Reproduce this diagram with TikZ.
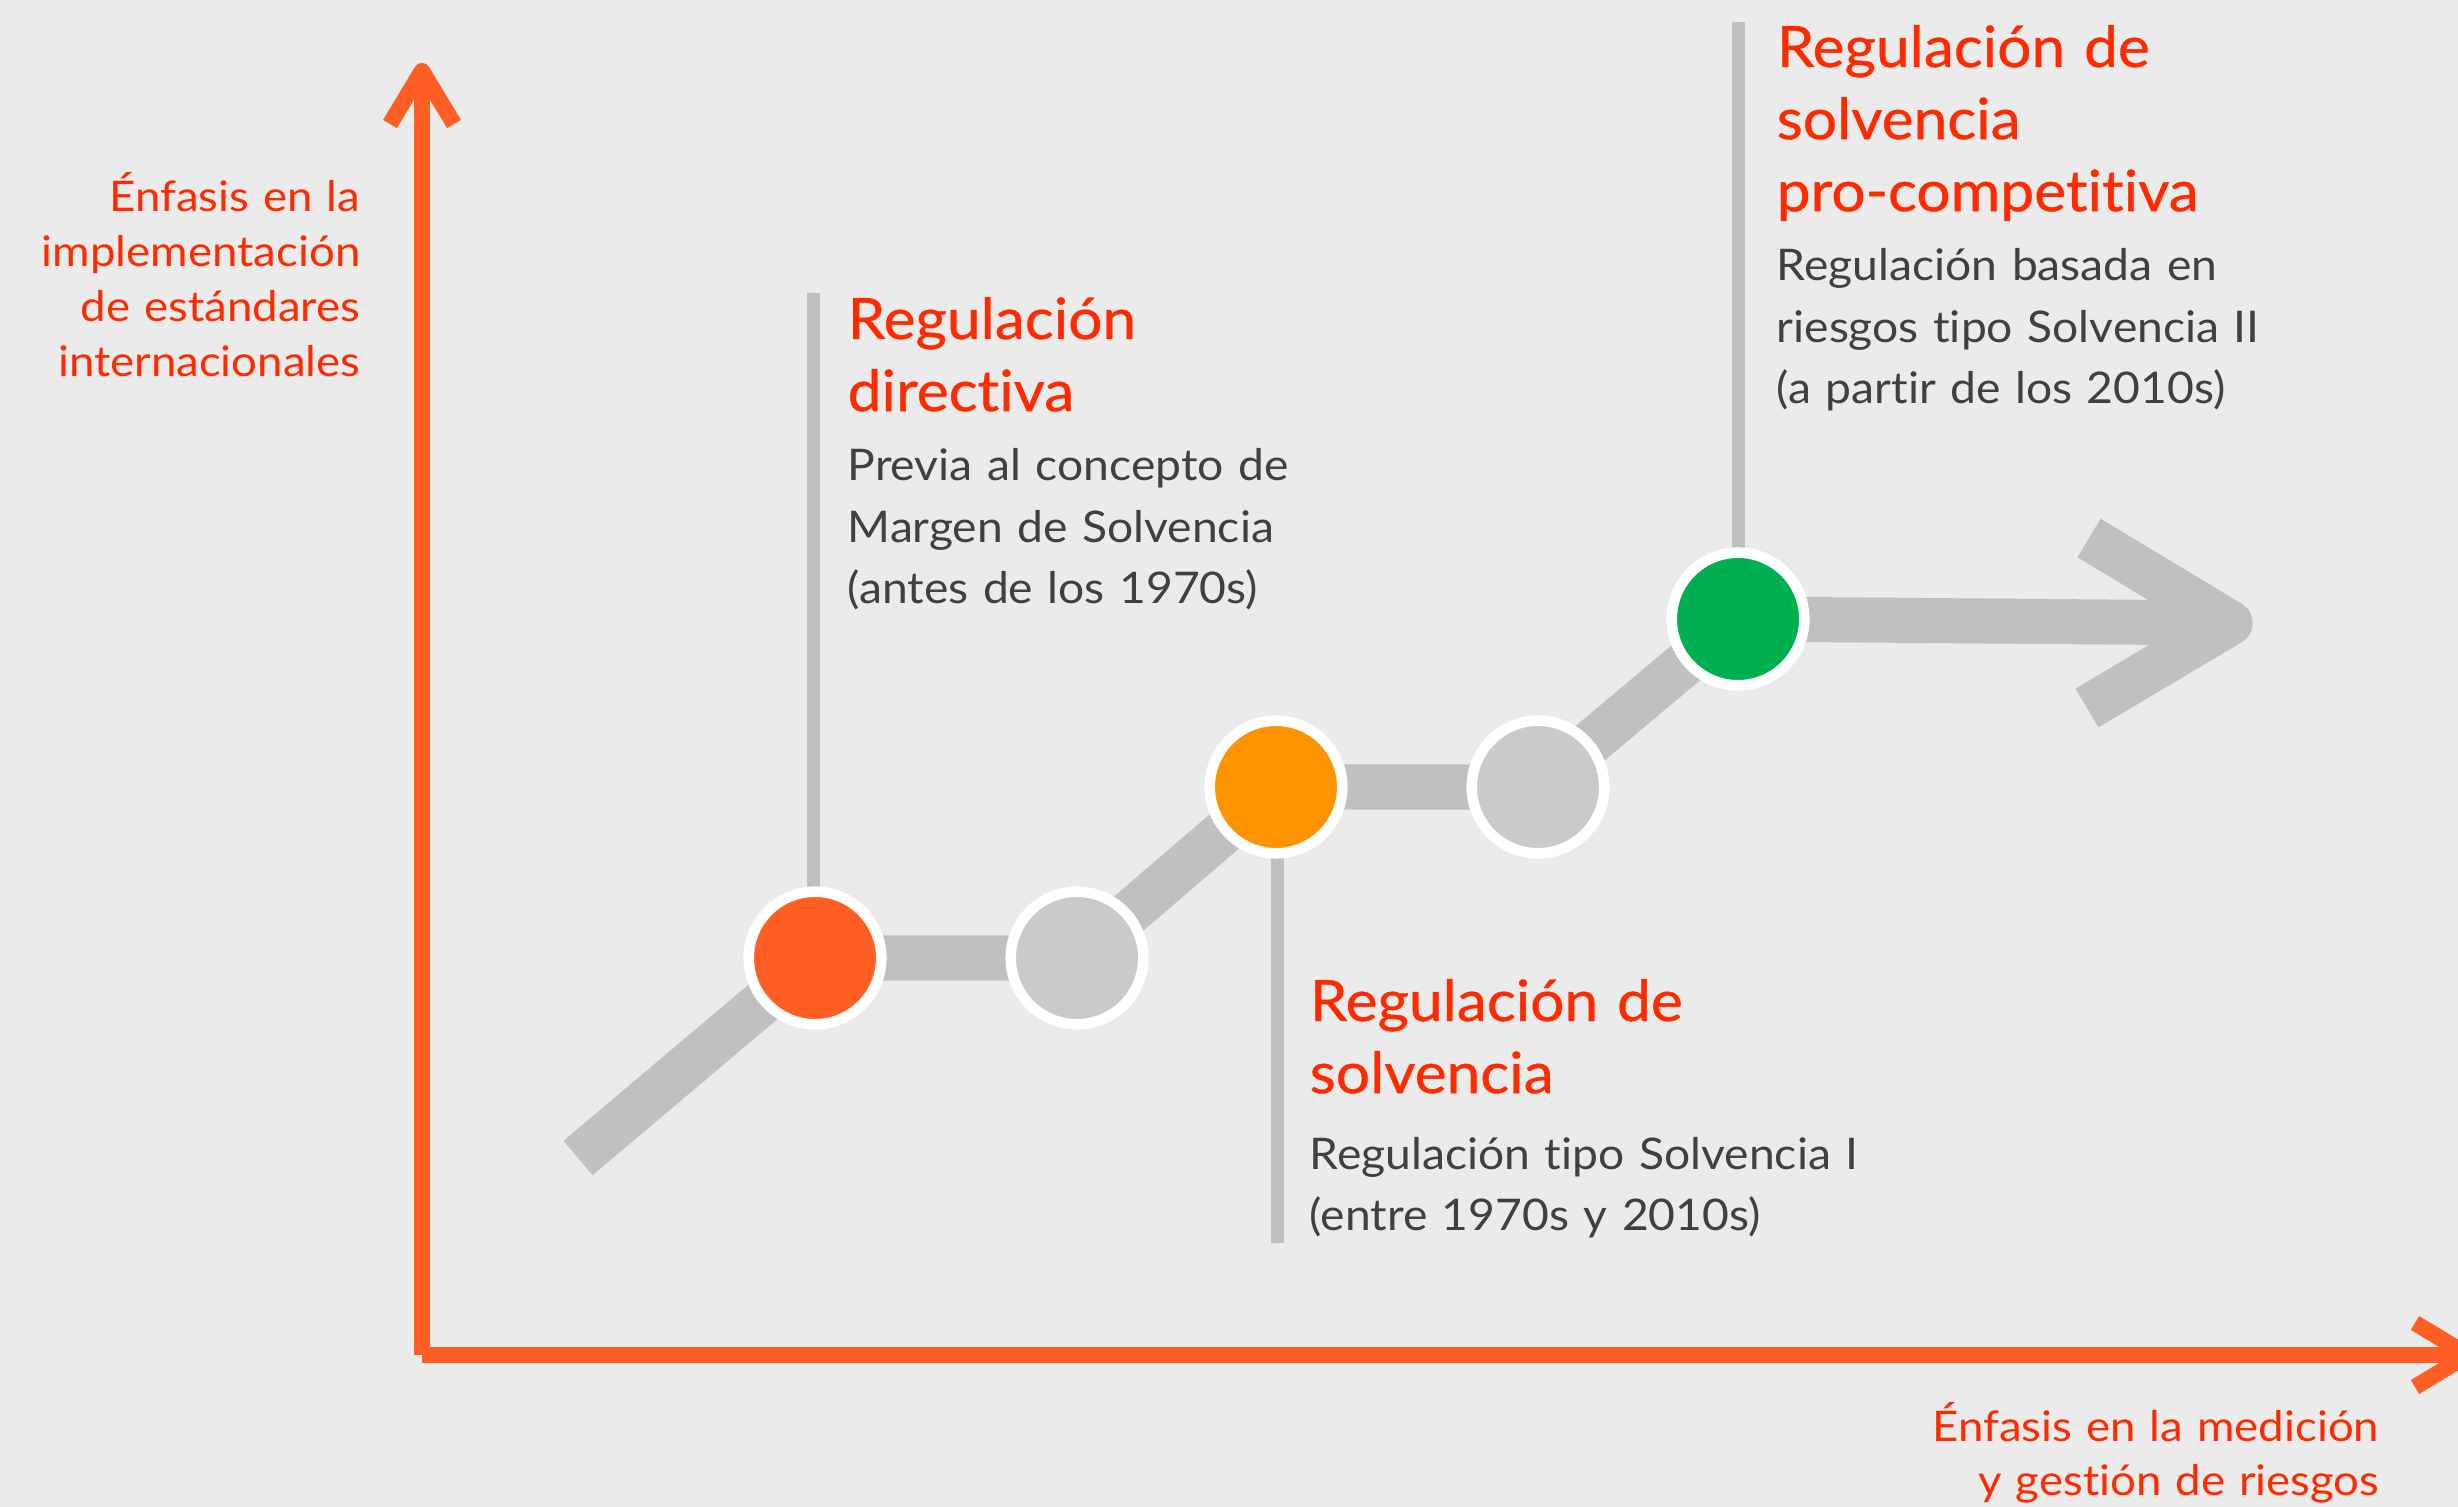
\documentclass[tikz,border=0pt]{standalone}
\usepackage{fontspec}
\setmainfont{Lato}[Ligatures=NoCommon]
\newfontfamily\titlefont[FakeStretch=1.06,FakeBold=0.7,Ligatures=NoCommon]{Lato}
\newfontfamily\bodyfont[FakeStretch=1.06,Ligatures=NoCommon]{Lato}
\newfontfamily\axisfont[FakeStretch=1.08,Ligatures=NoCommon]{Lato}
\definecolor{bg}{HTML}{EBEBEB}
\definecolor{axisorange}{HTML}{FF5E24}
\definecolor{pathgray}{HTML}{C0C0C0}
\definecolor{dotgray}{HTML}{CACACA}
\definecolor{dotorange}{HTML}{FF5F22}
\definecolor{dotamber}{HTML}{FF9300}
\definecolor{dotgreen}{HTML}{00B050}
\definecolor{titlered}{HTML}{FF2A00}
\definecolor{bodygray}{HTML}{404040}
\begin{document}
\begin{tikzpicture}[x=0.01cm,y=-0.01cm,
  axisline/.style={draw=axisorange, line width=4.6pt, line join=round},
  trackline/.style={draw=pathgray, line width=12.8pt, line join=round},
  stemline/.style={draw=pathgray, line width=3.7pt},
  dot/.style={circle, draw=white, line width=3pt, minimum size=1.325cm, inner sep=0pt},
  titletext/.style={anchor=base west, inner sep=0pt, text width=8cm, align=left, text=titlered, font=\titlefont\fontsize{16.2}{20.5}\selectfont},
  bodytext/.style={anchor=base west, inner sep=0pt, text width=8cm, align=left, text=bodygray, font=\bodyfont\fontsize{12.4}{17.4}\selectfont},
  axislabel/.style={anchor=base east, inner sep=0pt, text width=6cm, align=right, text=titlered, font=\axisfont\fontsize{12}{15.6}\selectfont}
]
\fill[bg] (0,0) rectangle (2458,1507);
\useasboundingbox (0,0) rectangle (2458,1507);
\clip (0,0) rectangle (2458,1507);

% axes
\coordinate (O) at (422,1355);
\coordinate (ytip) at (422,71);
\coordinate (xtip) at (2468,1355);
\draw[axisline] (O) -- (ytip);
\draw[axisline] ([xshift=-32*0.01cm, yshift=-53*0.01cm]ytip) -- (ytip) -- ([xshift=32*0.01cm, yshift=-53*0.01cm]ytip);
\draw[axisline] (O) -- (xtip);
\draw[axisline] ([xshift=-53*0.01cm, yshift=32*0.01cm]xtip) -- (xtip) -- ([xshift=-53*0.01cm, yshift=-32*0.01cm]xtip);

% track coordinates
\coordinate (start) at (578,1158);
\coordinate (p1) at (815,958);
\coordinate (p2) at (1077,958);
\coordinate (p3) at (1276,787);
\coordinate (p4) at (1538,787);
\coordinate (p5) at (1738,619);
\coordinate (tip) at (2230,623);
\coordinate (armA) at (2089,538);
\coordinate (armB) at (2087,708);

% stems
\coordinate (s1) at (813,293);
\coordinate (s2) at (1277,1243);
\coordinate (s3) at (1738,22);
\draw[stemline] (s1) -- (p1 -| s1);
\draw[stemline] (s2) -- (p3 -| s2);
\draw[stemline] (s3) -- (p5 -| s3);

% track
\draw[trackline] (start) -- (p1) -- (p2) -- (p3) -- (p4) -- (p5) -- (tip);
\draw[trackline] (armA) -- (tip) -- (armB);

% dots
\node[dot, fill=dotorange] (c1) at (p1) {};
\node[dot, fill=dotgray] (c2) at (p2) {};
\node[dot, fill=dotamber] (c3) at (p3) {};
\node[dot, fill=dotgray] (c4) at (p4) {};
\node[dot, fill=dotgreen] (c5) at (p5) {};

% texts
\node[titletext] (t1) at (847,339) {Regulación\\directiva};
\node[bodytext] (b1) at (847,481) {Previa al concepto de\\Margen de Solvencia\\(antes de los 1970s)};
\node[titletext] (t2) at (1309,1021) {Regulación de\\solvencia};
\node[bodytext] (b2) at (1309,1169) {Regulación tipo Solvencia I\\(entre 1970s y 2010s)};
\node[titletext] (t3) at (1776,67) {Regulación de\\solvencia\\pro-competitiva};
\node[bodytext] (b3) at (1776,281) {Regulación basada en\\riesgos tipo Solvencia II\\(a partir de los 2010s)};

\node[axislabel] (ly) at (361,212) {Énfasis en la\\implementación\\de estándares\\internacionales};
\node[axislabel] (lx) at (2380,1441) {Énfasis en la medición\\y gestión de riesgos};
\end{tikzpicture}
\end{document}
